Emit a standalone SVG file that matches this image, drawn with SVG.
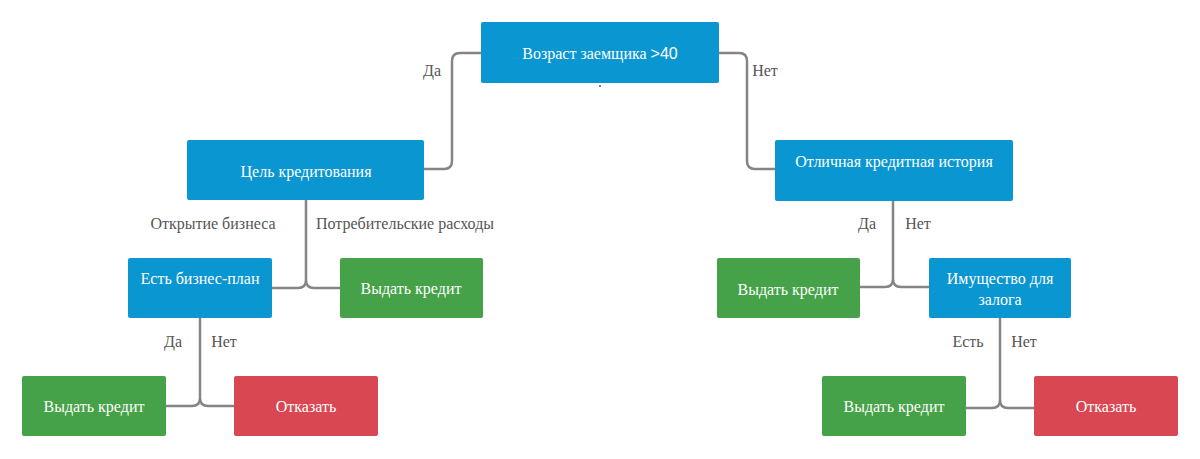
<svg xmlns="http://www.w3.org/2000/svg" width="1200" height="459" viewBox="0 0 1200 459">
<style>
.blue{fill:#0a96d0}
.green{fill:#45a248}
.red{fill:#d94752}
.nt{font-size:16px;fill:#ffffff;text-anchor:middle}
.lb{font-size:16px;fill:#555555;text-anchor:middle}
.ln{fill:none;stroke:#858585;stroke-width:2.5}
</style>
<rect width="1200" height="459" fill="#ffffff"/>
<g id="connectors" font-family="Liberation Serif, serif">
<path class="ln" d="M481,53 H460 Q452,53 452,61 V161 Q452,169 444,169 H424"/>
<path class="ln" d="M719,53 H739 Q747,53 747,61 V161 Q747,169 755,169 H776"/>
<path class="ln" d="M306,200 V280 Q306,288 298,288 H272 M306,280 Q306,288 314,288 H340"/>
<path class="ln" d="M200,318 V398 Q200,406 192,406 H166 M200,398 Q200,406 208,406 H234"/>
<path class="ln" d="M893,201 V279 Q893,287 885,287 H860 M893,279 Q893,287 901,287 H929"/>
<path class="ln" d="M1000,318 V400 Q1000,408 992,408 H966 M1000,400 Q1000,408 1008,408 H1034"/>
<circle cx="600" cy="86" r="1" fill="#555555"/>
<text class="lb" x="432" y="76">Да</text>
<text class="lb" x="765" y="76">Нет</text>
<text class="lb" x="213" y="229">Открытие бизнеса</text>
<text class="lb" x="405" y="229">Потребительские расходы</text>
<text class="lb" x="173" y="347">Да</text>
<text class="lb" x="224" y="347">Нет</text>
<text class="lb" x="867" y="229">Да</text>
<text class="lb" x="918" y="229">Нет</text>
<text class="lb" x="968" y="347">Есть</text>
<text class="lb" x="1024" y="347">Нет</text>
</g>
<g font-family="Liberation Serif, serif">
<g id="n-age">
<rect class="blue" x="481" y="22" width="238" height="61" rx="2"/>
<text class="nt" x="600" y="59">Возраст заемщика <tspan font-family="Liberation Sans, sans-serif">&gt;40</tspan></text>
</g>
<g id="n-goal">
<rect class="blue" x="187" y="140" width="237" height="60" rx="2"/>
<text class="nt" x="306" y="177">Цель кредитования</text>
</g>
<g id="n-history">
<rect class="blue" x="775" y="140" width="238" height="61" rx="2"/>
<text class="nt" x="894" y="167">Отличная кредитная история</text>
</g>
<g id="n-plan">
<rect class="blue" x="128" y="258" width="144" height="60" rx="2"/>
<text class="nt" x="200" y="284">Есть бизнес-план</text>
</g>
<g id="n-give1">
<rect class="green" x="340" y="258" width="143" height="60" rx="2"/>
<text class="nt" x="411" y="294">Выдать кредит</text>
</g>
<g id="n-give2">
<rect class="green" x="22" y="376" width="144" height="60" rx="2"/>
<text class="nt" x="94" y="412">Выдать кредит</text>
</g>
<g id="n-deny1">
<rect class="red" x="234" y="376" width="144" height="60" rx="2"/>
<text class="nt" x="306" y="412">Отказать</text>
</g>
<g id="n-give3">
<rect class="green" x="717" y="258" width="143" height="60" rx="2"/>
<text class="nt" x="788" y="295">Выдать кредит</text>
</g>
<g id="n-property">
<rect class="blue" x="929" y="258" width="142" height="60" rx="2"/>
<text class="nt" x="1000" y="284">Имущество для</text>
<text class="nt" x="1000" y="305">залога</text>
</g>
<g id="n-give4">
<rect class="green" x="822" y="376" width="144" height="60" rx="2"/>
<text class="nt" x="894" y="412">Выдать кредит</text>
</g>
<g id="n-deny2">
<rect class="red" x="1034" y="376" width="144" height="60" rx="2"/>
<text class="nt" x="1106" y="412">Отказать</text>
</g>
</g>
</svg>
